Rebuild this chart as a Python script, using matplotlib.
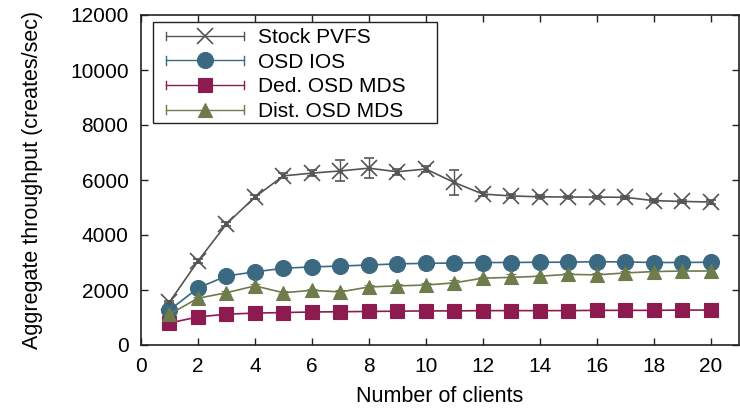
import numpy as np
import matplotlib
matplotlib.use("Agg")
import matplotlib.pyplot as plt
from matplotlib.legend_handler import HandlerBase
from matplotlib.lines import Line2D
from matplotlib.patches import Rectangle

plt.rcParams['font.family'] = ['Liberation Sans', 'DejaVu Sans']

clients = list(range(1, 21))

stock_pvfs = [1560, 3050, 4400, 5380, 6150, 6250, 6330, 6430, 6300, 6400,
              5910, 5490, 5420, 5390, 5380, 5380, 5370, 5250, 5220, 5200]
stock_err = [50, 60, 60, 80, 90, 100, 380, 360, 100, 100,
             460, 80, 60, 60, 50, 50, 50, 60, 60, 60]

osd_ios = [1270, 2070, 2510, 2660, 2790, 2840, 2870, 2910, 2950, 2970,
           2980, 3000, 3000, 3010, 3010, 3030, 3020, 3000, 3000, 3010]
osd_ios_err = [30] * 20

ded_mds = [800, 1020, 1120, 1160, 1180, 1200, 1210, 1220, 1230, 1240,
           1240, 1250, 1250, 1250, 1250, 1260, 1260, 1260, 1270, 1270]
ded_err = [20] * 20

dist_mds = [1120, 1700, 1900, 2150, 1900, 1990, 1930, 2110, 2150, 2180,
            2260, 2430, 2460, 2500, 2570, 2550, 2620, 2670, 2690, 2690]
dist_err = [40, 50, 60, 60, 60, 60, 80, 90, 60, 60,
            90, 60, 140, 60, 60, 60, 60, 60, 60, 60]

labels = ["Stock PVFS", "OSD IOS", "Ded. OSD MDS", "Dist. OSD MDS"]
colors = ["#555555", "#3b6982", "#8e1b50", "#6e7b4a"]
markers = ["x", "o", "s", "^"]
msizes = [12, 11.5, 10, 9.5]

series = [(stock_pvfs, stock_err), (osd_ios, osd_ios_err),
          (ded_mds, ded_err), (dist_mds, dist_err)]

fig = plt.figure(figsize=(7.4, 4.08), dpi=100)
ax = fig.add_axes([141 / 740, 63 / 408, 598 / 740, 330 / 408])

for (vals, err), lab, c, m, ms in zip(series, labels, colors, markers, msizes):
    ax.errorbar(clients, vals, yerr=err, color=c, marker=m, markersize=ms,
                linewidth=1.2, elinewidth=1.0, capsize=3.5, capthick=1.0,
                markeredgewidth=1.2 if m == 'x' else 0.8,
                markeredgecolor=c, markerfacecolor=c, label=lab, zorder=3)
    if m == 'x':
        ax.plot(clients, vals, linestyle='none', marker='o', markersize=2.5,
                color=c, zorder=4)


class HandlerCapLine(HandlerBase):
    def __init__(self, color, marker, ms):
        super().__init__()
        self.color = color
        self.marker = marker
        self.ms = ms

    def create_artists(self, legend, orig_handle, xdescent, ydescent,
                       width, height, fontsize, trans):
        y = height / 2 - ydescent
        x0 = -xdescent
        x1 = -xdescent + width
        cap = 3.0
        arts = [
            Line2D([x0, x1], [y, y], color=self.color, lw=1.0, transform=trans),
            Line2D([x0, x0], [y - cap, y + cap], color=self.color, lw=1.0, transform=trans),
            Line2D([x1, x1], [y - cap, y + cap], color=self.color, lw=1.0, transform=trans),
            Line2D([(x0 + x1) / 2], [y], color=self.color, marker=self.marker,
                   markersize=self.ms, markeredgewidth=1.2 if self.marker == 'x' else 0.8,
                   markerfacecolor=self.color, markeredgecolor=self.color,
                   linestyle='none', transform=trans),
        ]
        return arts


handles, labs = ax.get_legend_handles_labels()
hmap = {h: HandlerCapLine(c, m, ms) for h, c, m, ms in zip(handles, colors, markers, msizes)}
leg = ax.legend(handles, labs, handler_map=hmap, loc='upper left',
                bbox_to_anchor=(25 / 598, 317 / 330), borderaxespad=0,
                fontsize=15, handlelength=3.75, handletextpad=0.67,
                labelspacing=0.27, borderpad=0.0, frameon=False)

# legend box (drawn as a frame in axes coordinates)
ax.add_patch(Rectangle((12 / 598, 222 / 330), 284 / 598, 101 / 330,
                       transform=ax.transAxes, fill=True, facecolor='white',
                       edgecolor='#222222', linewidth=1.0, zorder=4.5))
leg.set_zorder(5)

ax.set_xlim(0, 21)
ax.set_ylim(0, 12000)
ax.set_xticks(range(0, 21, 2))
ax.set_yticks(range(0, 12001, 2000))
ax.tick_params(direction='in', length=5, width=1, top=True, right=True,
               labelsize=15, colors='#222222', labelcolor='black')
ax.tick_params(axis='y', pad=9)
ax.tick_params(axis='x', pad=9)
for s in ax.spines.values():
    s.set_linewidth(1.2)
    s.set_color('#222222')

ax.set_xlabel("Number of clients", fontsize=15.5, labelpad=7)
ax.set_ylabel("Aggregate throughput (creates/sec)", fontsize=15.5, labelpad=19)

fig.savefig("out.png", dpi=100)
